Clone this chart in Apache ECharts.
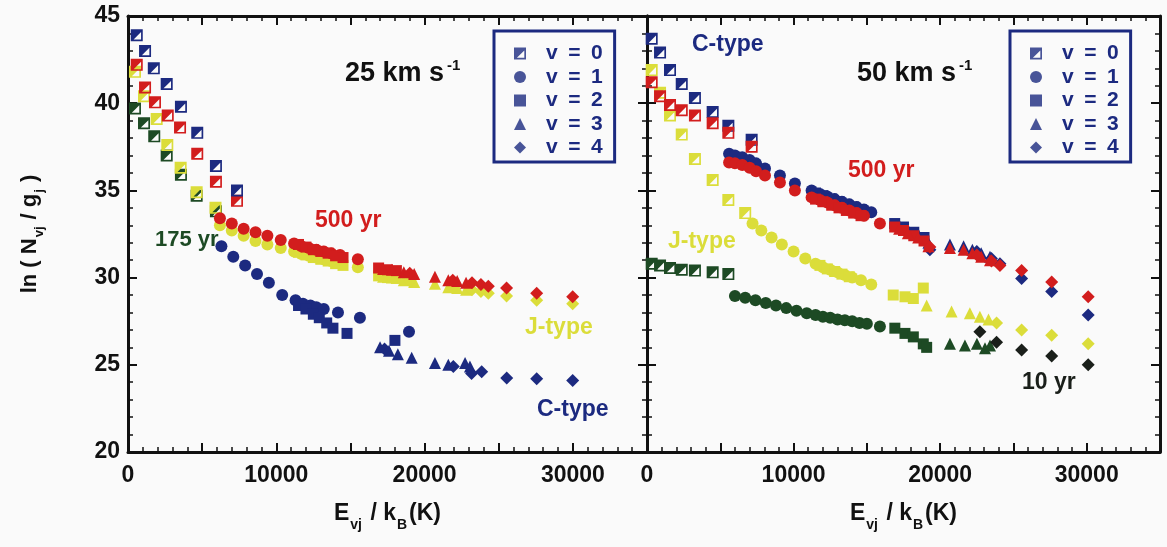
<!DOCTYPE html>
<html><head><meta charset="utf-8">
<script src="https://cdn.jsdelivr.net/npm/echarts@6/dist/echarts.min.js"></script>
<style>html,body{margin:0;padding:0;background:#fafafa}#c{width:1167px;height:547px}</style>
</head><body><div id="c"></div>
<script>
// ---------- data: [E_vj/k_B (K), ln(N_vj/g_j)] ----------
// Left panel, 25 km/s
const L_C_v0 = [[590,43.9],[1150,43.0],[1740,42.0],[2610,41.1],[3570,39.8],[4670,38.3],[5930,36.4],[7350,35.0]];
const L_C_v1 = [[6300,31.8],[7100,31.2],[7900,30.7],[8700,30.2],[9500,29.7],[10400,29.0],[11300,28.7],[11800,28.5],[12300,28.4],[12700,28.3],[13200,28.2],[14160,28.0],[15640,27.7],[18950,26.9]];
const L_C_v2 = [[11500,28.4],[12000,28.2],[12500,27.9],[12900,27.7],[13400,27.4],[13820,27.1],[14770,26.8],[18000,26.4]];
const L_C_v3 = [[17000,26.0],[17600,25.8],[18200,25.6],[19130,25.4],[20700,25.1],[21600,25.0],[22730,25.1],[23060,24.9]];
const L_C_v4 = [[17300,25.9],[21940,24.9],[23170,24.5],[23850,24.6],[25540,24.25],[27560,24.2],[29990,24.1]];

const L_R_v0 = [[590,42.2],[1150,40.9],[1820,40.05],[2680,39.3],[3510,38.6],[4670,37.1],[5930,35.5],[7350,34.4]];
const L_R_v1 = [[6200,33.4],[7000,33.1],[7800,32.8],[8600,32.6],[9400,32.4],[10300,32.15],[11200,31.95],[11700,31.8],[12200,31.7],[12700,31.6],[13200,31.5],[13700,31.4],[14300,31.3],[15500,31.05]];
const L_R_v2 = [[11500,31.9],[12000,31.75],[12500,31.6],[13000,31.5],[13500,31.4],[14000,31.25],[14500,31.15],[16900,30.55],[17500,30.45],[18100,30.4]];
const L_R_v3 = [[17200,30.5],[17800,30.45],[18600,30.3],[19300,30.2],[20700,30.05],[21600,29.85],[22200,29.8],[22800,29.7]];
const L_R_v4 = [[19000,30.25],[21900,29.85],[23200,29.7],[23800,29.6],[24300,29.5],[25530,29.4],[27560,29.1],[29990,28.9]];

const L_J_v0 = [[470,41.8],[1080,40.4],[1935,39.1],[2650,37.6],[3550,36.3],[4630,34.9],[5900,34.0]];
const L_J_v1 = [[6200,33.0],[7000,32.7],[7800,32.4],[8600,32.1],[9400,31.9],[10300,31.7],[11200,31.5],[11700,31.35],[12200,31.25],[12700,31.15],[13200,31.05],[13700,30.95],[14300,30.85],[15500,30.6]];
const L_J_v2 = [[11500,31.45],[12000,31.3],[12500,31.15],[13000,31.05],[13500,30.95],[14000,30.8],[14500,30.7],[16900,30.1],[17500,30.0],[18100,29.95]];
const L_J_v3 = [[17200,30.05],[17800,30.0],[18600,29.85],[19300,29.75],[20700,29.65],[21600,29.45],[22200,29.4],[22800,29.3]];
const L_J_v4 = [[19000,29.8],[21900,29.45],[23200,29.3],[23800,29.2],[24300,29.1],[25530,28.95],[27560,28.7],[29990,28.5]];

const L_G_v0 = [[470,39.7],[1080,38.85],[1770,38.1],[2610,37.0],[3570,35.9],[4630,34.7],[5930,33.8]];

// Right panel, 50 km/s
const R_C_v0 = [[320,43.7],[890,42.9],[1570,41.9],[2370,41.1],[3270,40.3],[4480,39.5],[5550,38.7],[7140,37.9]];
const R_C_v1 = [[5600,37.1],[6000,37.0],[6500,36.9],[7000,36.75],[7440,36.55],[8050,36.25],[9070,35.85],[10090,35.4],[11230,35.0],[11800,34.8],[12300,34.65],[12800,34.5],[13300,34.35],[13800,34.2],[14300,34.05],[14800,33.9],[15300,33.75]];
const R_C_v2 = [[11500,34.85],[12000,34.7],[12600,34.5],[13100,34.35],[13600,34.2],[14100,34.05],[14600,33.9],[16900,33.1],[17500,32.9],[18200,32.6],[18900,32.3]];
const R_C_v3 = [[17200,33.0],[17800,32.75],[18500,32.5],[19200,32.0],[20670,31.9],[21600,31.8],[22200,31.6],[22800,31.4],[23400,31.2]];
const R_C_v4 = [[19300,31.6],[22500,31.5],[23500,31.1],[24080,30.8],[25560,29.95],[27610,29.2],[30100,27.85]];

const R_R_v0 = [[320,41.2],[890,40.4],[1570,39.9],[2370,39.6],[3270,39.3],[4480,38.85],[5550,38.3],[7140,37.5]];
const R_R_v1 = [[5600,36.6],[6000,36.55],[6500,36.45],[7000,36.3],[7440,36.1],[8050,35.85],[9070,35.45],[10090,35.0],[11230,34.6],[11800,34.45],[12300,34.3],[12800,34.15],[13300,34.0],[13800,33.85],[14300,33.7],[14800,33.55],[15890,33.1]];
const R_R_v2 = [[11500,34.5],[12000,34.35],[12600,34.15],[13100,34.0],[13600,33.85],[14100,33.7],[14600,33.55],[16900,32.9],[17500,32.7],[18200,32.4],[18900,32.1]];
const R_R_v3 = [[17200,32.8],[17800,32.55],[18500,32.3],[19200,31.8],[20670,31.7],[21600,31.6],[22200,31.4],[22800,31.2],[23400,31.0]];
const R_R_v4 = [[19300,31.75],[22500,31.3],[23500,30.95],[24080,30.7],[25560,30.4],[27610,29.75],[30100,28.9]];

const R_J_v0 = [[320,41.9],[890,40.6],[1570,39.3],[2370,38.2],[3270,36.8],[4480,35.6],[5550,34.45],[6700,33.7]];
const R_J_v1 = [[7200,33.1],[7800,32.7],[8500,32.3],[9200,31.9],[10000,31.5],[10800,31.1],[11500,30.8],[12000,30.6],[12500,30.45],[13000,30.3],[13500,30.15],[14000,30.0],[14600,29.85],[15300,29.6]];
const R_J_v2 = [[11800,30.7],[12300,30.5],[12800,30.35],[13300,30.2],[13800,30.05],[16800,29.0],[17600,28.9],[18170,28.8],[18850,29.4]];
const R_J_v3 = [[19080,28.4],[20780,28.05],[22030,27.95],[22710,27.75],[23300,27.6]];
const R_J_v4 = [[23850,27.4],[25560,27.0],[27610,26.7],[30100,26.2]];

const R_G_v0 = [[320,30.8],[890,30.7],[1570,30.55],[2370,30.45],[3270,30.4],[4480,30.3],[5550,30.2]];
const R_G_v1 = [[6000,28.95],[6700,28.85],[7400,28.7],[8100,28.55],[8800,28.4],[9500,28.25],[10200,28.1],[10900,27.95],[11500,27.85],[12000,27.75],[12500,27.7],[13000,27.6],[13500,27.55],[14000,27.5],[14500,27.4],[15000,27.35],[15890,27.2]];
const R_G_v2 = [[16910,27.1],[17600,26.8],[18170,26.6],[18850,26.2],[19080,26.0]];
const R_G_v3 = [[20670,26.2],[21690,26.1],[22510,26.2],[23060,25.95],[23400,26.1]];
const R_G_v4 = [[22710,26.9],[23850,26.3],[25560,25.85],[27610,25.5],[30100,25.0]];

const legendNames = ['v\u2002=\u20020','v\u2002=\u20021','v\u2002=\u20022','v\u2002=\u20023','v\u2002=\u20024'];
const xTickLabels = [0, 10000, 20000, 30000];
const yTickLabels = [20, 25, 30, 35, 40, 45];

// ---------- styles ----------
const NAVY = '#1c2a80', RED = '#d21d1d', YEL = '#dbdd3a', GRN = '#1d4a24', BLK = '#1a1f1a';
const HALF_SQ = 'path://M0,0L10,0L10,10L0,10Z M8.6,2.4L2.4,8.6L8.6,8.6Z';
const SYMS = [HALF_SQ, 'circle', 'rect', 'triangle', 'diamond'];
const SIZES = [12, 12, 11, 12, 13];
const FONT = '"Liberation Sans", Arial, sans-serif';

function sc(data, v, color, panel) {
  return { type: 'scatter', data: data, symbol: SYMS[v], symbolSize: SIZES[v],
    xAxisIndex: panel * 2, yAxisIndex: panel * 2,
    itemStyle: { color: color, opacity: 1 }, silent: true, z: 3 };
}
const series = [
  // left panel
  sc(L_G_v0,0,GRN,0),
  sc(L_J_v0,0,YEL,0), sc(L_J_v1,1,YEL,0), sc(L_J_v2,2,YEL,0), sc(L_J_v3,3,YEL,0), sc(L_J_v4,4,YEL,0),
  sc(L_R_v0,0,RED,0), sc(L_R_v1,1,RED,0), sc(L_R_v2,2,RED,0), sc(L_R_v3,3,RED,0), sc(L_R_v4,4,RED,0),
  sc(L_C_v0,0,NAVY,0), sc(L_C_v1,1,NAVY,0), sc(L_C_v2,2,NAVY,0), sc(L_C_v3,3,NAVY,0), sc(L_C_v4,4,NAVY,0),
  // right panel
  sc(R_J_v0,0,YEL,1), sc(R_J_v1,1,YEL,1), sc(R_J_v2,2,YEL,1), sc(R_J_v3,3,YEL,1), sc(R_J_v4,4,YEL,1),
  sc(R_G_v0,0,GRN,1), sc(R_G_v1,1,GRN,1), sc(R_G_v2,2,GRN,1), sc(R_G_v3,3,GRN,1), sc(R_G_v4,4,BLK,1),
  sc(R_C_v0,0,NAVY,1), sc(R_C_v1,1,NAVY,1), sc(R_C_v2,2,NAVY,1), sc(R_C_v3,3,NAVY,1), sc(R_C_v4,4,NAVY,1),
  sc(R_R_v0,0,RED,1), sc(R_R_v1,1,RED,1), sc(R_R_v2,2,RED,1), sc(R_R_v3,3,RED,1), sc(R_R_v4,4,RED,1)
];
// legend-only series
legendNames.forEach((n, v) => series.push({ type: 'scatter', name: n, data: [], symbol: SYMS[v],
  symbolKeepAspect: true, xAxisIndex: 0, yAxisIndex: 0, itemStyle: { color: NAVY } }));

const axLine = { show: true, onZero: false, lineStyle: { color: '#111', width: 3 } };
function xAx(grid, pos, labels) {
  return { type: 'value', gridIndex: grid, position: pos, min: 0, max: 35000, interval: 5000,
    axisLine: axLine, splitLine: { show: false },
    axisTick: { show: true, inside: true, length: 9, lineStyle: { color: '#111', width: 2 } },
    minorTick: { show: true, splitNumber: 5, length: 5, lineStyle: { color: '#111', width: 1.5 } },
    axisLabel: { show: labels, margin: 12, color: '#111', fontFamily: FONT, fontWeight: 'bold', fontSize: 23,
      formatter: v => xTickLabels.indexOf(v) >= 0 ? String(v) : '' },
    name: labels ? '{a|E}{s|vj}{a| / k}{s|B}{a|(K)}' : '', nameLocation: 'middle', nameGap: 44,
    nameTextStyle: { rich: {
      a: { fontFamily: FONT, fontWeight: 'bold', fontSize: 23, color: '#111' },
      s: { fontFamily: FONT, fontWeight: 'bold', fontSize: 14, color: '#111', padding: [22, 2, 0, 1] } } } };
}
function yAx(grid, pos, labels) {
  return { type: 'value', gridIndex: grid, position: pos, min: 20, max: 45, interval: 5,
    axisLine: axLine, splitLine: { show: false },
    axisTick: { show: true, inside: true, length: 9, lineStyle: { color: '#111', width: 2 } },
    minorTick: { show: true, splitNumber: 5, length: 5, lineStyle: { color: '#111', width: 1.5 } },
    axisLabel: { show: labels, margin: 8, color: '#111', fontFamily: FONT, fontWeight: 'bold', fontSize: 23,
      formatter: v => yTickLabels.indexOf(v) >= 0 ? String(v) : '' },
    name: labels ? '{a|ln ( N}{s|vj}{a| / g}{s|j}{a| )}' : '', nameLocation: 'middle', nameGap: 82, nameRotate: 90,
    nameTextStyle: { rich: {
      a: { fontFamily: FONT, fontWeight: 'bold', fontSize: 22, color: '#111' },
      s: { fontFamily: FONT, fontWeight: 'bold', fontSize: 13, color: '#111', padding: [20, 1, 0, 1] } } } };
}
function lg(left, padL) {
  return { show: true, data: legendNames, orient: 'vertical', left: left, top: 31, selectedMode: false,
    itemWidth: 12, itemHeight: 12, itemGap: 2.5, padding: [12, 12, 4, padL], symbolKeepAspect: true,
    borderColor: NAVY, borderWidth: 3, backgroundColor: 'rgba(255,255,255,0)',
    textStyle: { color: NAVY, fontFamily: FONT, fontWeight: 'bold', fontSize: 21, lineHeight: 21,
      padding: [0, 0, 0, 15] } };
}
function txt(x, y, text, color, size) {
  return { type: 'text', left: x, top: y, z: 10, style: { text: text, fill: color,
    font: 'bold ' + size + 'px ' + FONT } };
}
function speed(x, y, n) {
  return { type: 'text', left: x, top: y, z: 10, style: {
    text: '{a|' + n + ' km s}{b|-1}',
    rich: { a: { fontFamily: FONT, fontWeight: 'bold', fontSize: 27, fill: '#111', color: '#111' },
            b: { fontFamily: FONT, fontWeight: 'bold', fontSize: 15, fill: '#111', color: '#111', padding: [0, 0, 16, 3] } } } };
}

const chart = echarts.init(document.getElementById('c'), null, { renderer: 'canvas' });
chart.setOption({
  backgroundColor: '#fafafa',
  animation: false,
  grid: [
    { left: 128, top: 16, width: 519, height: 436 },
    { left: 647, top: 16, width: 513, height: 436 }
  ],
  xAxis: [ xAx(0, 'bottom', true), xAx(0, 'top', false), xAx(1, 'bottom', true), xAx(1, 'top', false) ],
  yAxis: [ yAx(0, 'left', true), yAx(0, 'right', false), yAx(1, 'left', false), yAx(1, 'right', false) ],
  legend: [ lg(494, 20), lg(1010, 20) ],
  graphic: [
    speed(345, 58, '25'), speed(857, 58, '50'),
    txt(315, 209, '500 yr', RED, 23),
    txt(155, 229, '175 yr', GRN, 22),
    txt(525, 316, 'J-type', YEL, 23),
    txt(537, 398, 'C-type', NAVY, 23),
    txt(692, 33, 'C-type', NAVY, 23),
    txt(848, 159, '500 yr', RED, 23),
    txt(668, 230, 'J-type', YEL, 23),
    txt(1022, 371, '10 yr', BLK, 23)
  ],
  series: series
});
</script></body></html>
